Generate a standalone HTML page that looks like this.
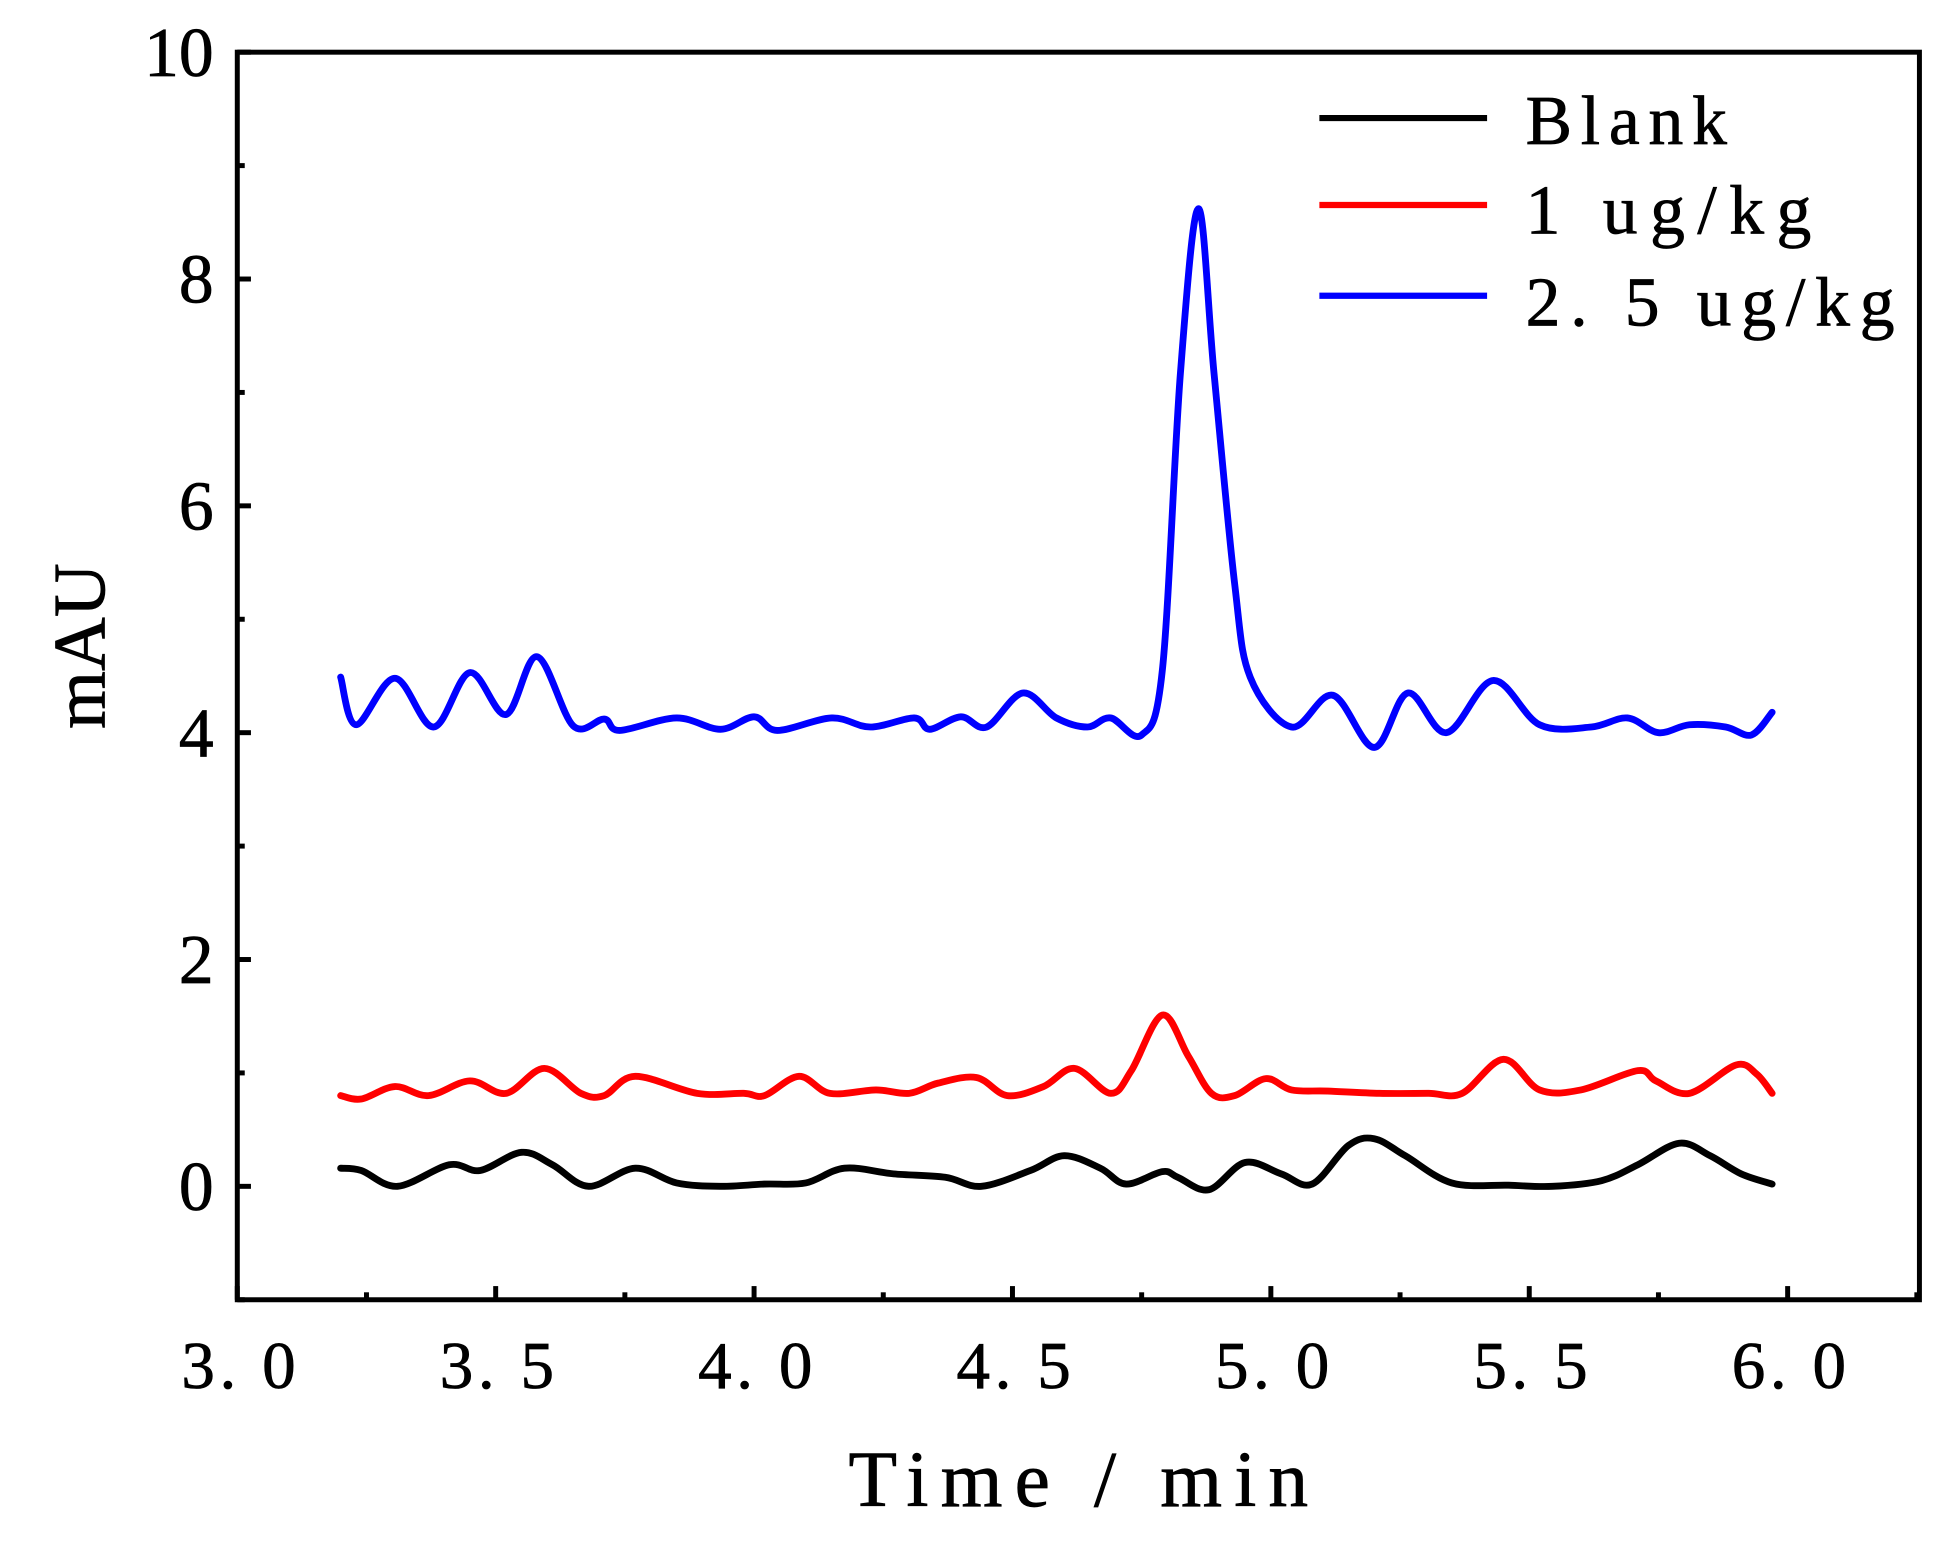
<!DOCTYPE html>
<html><head><meta charset="utf-8">
<style>html,body{margin:0;padding:0;background:#fff;}svg{display:block;}</style>
</head><body>
<svg id="chart" width="1948" height="1552" viewBox="0 0 1568 1249" preserveAspectRatio="none" font-family="'Liberation Serif', 'Noto Serif CJK SC', serif">
<rect x="0" y="0" width="1568" height="1249" fill="#fff"/>
<g id="plot"></g>
<g id="axes"></g>
<g font-size="56" stroke="#000" stroke-width="0.6">
  <g><line x1="1062" y1="95" x2="1197" y2="95" stroke="#000" stroke-width="5"/><text x="1228" y="116" textLength="162" lengthAdjust="spacing">Blank</text></g>
  <g><line x1="1062" y1="165" x2="1197" y2="165" stroke="#f00" stroke-width="5"/><text x="1228" y="188" textLength="230" lengthAdjust="spacing" xml:space="preserve">1 ug/kg</text></g>
  <g><line x1="1062" y1="238" x2="1197" y2="238" stroke="#00f" stroke-width="5"/><text x="1228" y="262" textLength="297" lengthAdjust="spacing" xml:space="preserve">2. 5 ug/kg</text></g>
</g>
<text x="683" y="1212" font-size="64" textLength="370" lengthAdjust="spacing" stroke="#000" stroke-width="0.6" xml:space="preserve">Time / min</text>
<text transform="translate(84,520) rotate(-90)" font-size="60" text-anchor="middle" stroke="#000" stroke-width="0.6">mAU</text>
</svg>
<script>
const xTicks=[3.0,3.5,4.0,4.5,5.0,5.5,6.0];
const xTickLabels=["3. 0","3. 5","4. 0","4. 5","5. 0","5. 5","6. 0"];
const yTicks=[0,2,4,6,8,10];
const yTickLabels=["0","2","4","6","8","10"];
const blankX=[3.20,3.24,3.31,3.41,3.47,3.55,3.61,3.68,3.77,3.85,3.935,4.02,4.10,4.175,4.27,4.37,4.44,4.535,4.60,4.67,4.72,4.79,4.82,4.88,4.95,5.02,5.08,5.15,5.20,5.26,5.35,5.46,5.545,5.64,5.71,5.79,5.85,5.91,5.97];
const blankY=[0.16,0.14,0,0.19,0.14,0.30,0.19,0,0.16,0.03,0,0.02,0.03,0.16,0.11,0.08,0,0.14,0.27,0.16,0.02,0.13,0.08,-0.03,0.21,0.11,0.02,0.36,0.42,0.27,0.03,0.01,0,0.05,0.19,0.38,0.27,0.11,0.02];
const redX=[3.20,3.24,3.305,3.37,3.45,3.52,3.594,3.665,3.71,3.77,3.89,3.98,4.02,4.087,4.147,4.236,4.30,4.356,4.43,4.49,4.56,4.62,4.69,4.73,4.79,4.84,4.885,4.93,4.99,5.04,5.11,5.21,5.305,5.37,5.45,5.52,5.60,5.71,5.745,5.81,5.90,5.94,5.97];
const redY=[0.80,0.77,0.88,0.80,0.93,0.82,1.04,0.82,0.80,0.97,0.82,0.82,0.80,0.97,0.82,0.85,0.82,0.91,0.96,0.80,0.88,1.04,0.82,1.02,1.51,1.15,0.82,0.80,0.95,0.85,0.84,0.82,0.82,0.82,1.12,0.85,0.85,1.02,0.93,0.82,1.07,0.99,0.82];
const blueX=[3.20,3.23,3.305,3.38,3.45,3.52,3.58,3.65,3.71,3.74,3.85,3.935,4.0,4.045,4.15,4.225,4.31,4.34,4.40,4.45,4.52,4.585,4.645,4.69,4.75,4.79,4.825,4.86,4.89,4.93,4.96,5.04,5.12,5.20,5.265,5.34,5.43,5.52,5.62,5.69,5.75,5.81,5.88,5.93,5.97];
const blueY=[4.49,4.07,4.48,4.05,4.53,4.16,4.67,4.06,4.12,4.02,4.13,4.03,4.14,4.02,4.13,4.05,4.13,4.03,4.14,4.05,4.35,4.13,4.05,4.13,3.98,4.55,7.17,8.62,7.17,5.31,4.49,4.05,4.33,3.87,4.35,4.0,4.46,4.07,4.05,4.13,4.0,4.07,4.05,3.98,4.18];

const L=191,R=1545,T=42,B=1046;
const X0=3.0,X1=6.255,Y0=-1,Y1=10;
const sx=v=>L+(v-X0)/(X1-X0)*(R-L);
const sy=v=>B-(v-Y0)/(Y1-Y0)*(B-T);
const NS="http://www.w3.org/2000/svg";
function mk(tag,attrs,parent){const e=document.createElementNS(NS,tag);for(const k in attrs)e.setAttribute(k,attrs[k]);parent.appendChild(e);return e;}
function pathD(xs,ys){const p=xs.map((x,i)=>[sx(x),sy(ys[i])]);let d="M"+p[0][0]+","+p[0][1];
 for(let i=0;i<p.length-1;i++){const a=p[Math.max(0,i-1)],b=p[i],c=p[i+1],e=p[Math.min(p.length-1,i+2)];
 const c1=[b[0]+(c[0]-a[0])/6,b[1]+(c[1]-a[1])/6],c2=[c[0]-(e[0]-b[0])/6,c[1]-(e[1]-b[1])/6];
 d+=" C"+c1[0]+","+c1[1]+" "+c2[0]+","+c2[1]+" "+c[0]+","+c[1];}return d;}
const plot=document.getElementById('plot');
const series=[[blankX,blankY,"#000","series-blank"],[redX,redY,"#f00","series-1ugkg"],[blueX,blueY,"#00f","series-2-5ugkg"]];
series.forEach(s=>{const el=mk('path',{d:pathD(s[0],s[1]),fill:"none",stroke:s[2],"stroke-width":5.5,"stroke-linejoin":"round","stroke-linecap":"round"},plot);

});
const ax=document.getElementById('axes');
const frame=mk('rect',{x:L,y:T,width:R-L,height:B-T,fill:"none",stroke:"#000","stroke-width":4},ax);


xTicks.forEach((v,i)=>{const x=sx(v);
 mk('line',{x1:x,y1:B,x2:x,y2:B-11,stroke:"#000","stroke-width":4},ax);
 if(i<xTicks.length-1){const xm=sx(v+0.25);mk('line',{x1:xm,y1:B,x2:xm,y2:B-6,stroke:"#000","stroke-width":4},ax);}
 const t=mk('text',{x:x-45,y:1117,"font-size":54,textLength:92,lengthAdjust:"spacing",stroke:"#000","stroke-width":0.6},ax);t.textContent=xTickLabels[i];
 t.setAttribute('xml:space','preserve');
 
 });
mk('line',{x1:sx(6.25),y1:B,x2:sx(6.25),y2:B-6,stroke:"#000","stroke-width":4},ax);
yTicks.forEach((v,i)=>{const y=sy(v);
 mk('line',{x1:L,y1:y,x2:L+11,y2:y,stroke:"#000","stroke-width":4},ax);
 const ym=sy(v-1);mk('line',{x1:L,y1:ym,x2:L+6,y2:ym,stroke:"#000","stroke-width":4},ax);
 const t=mk('text',{x:172,y:y+19,"font-size":56,"text-anchor":"end",stroke:"#000","stroke-width":0.6},ax);t.textContent=yTickLabels[i];
 
 });
</script>
</body></html>
